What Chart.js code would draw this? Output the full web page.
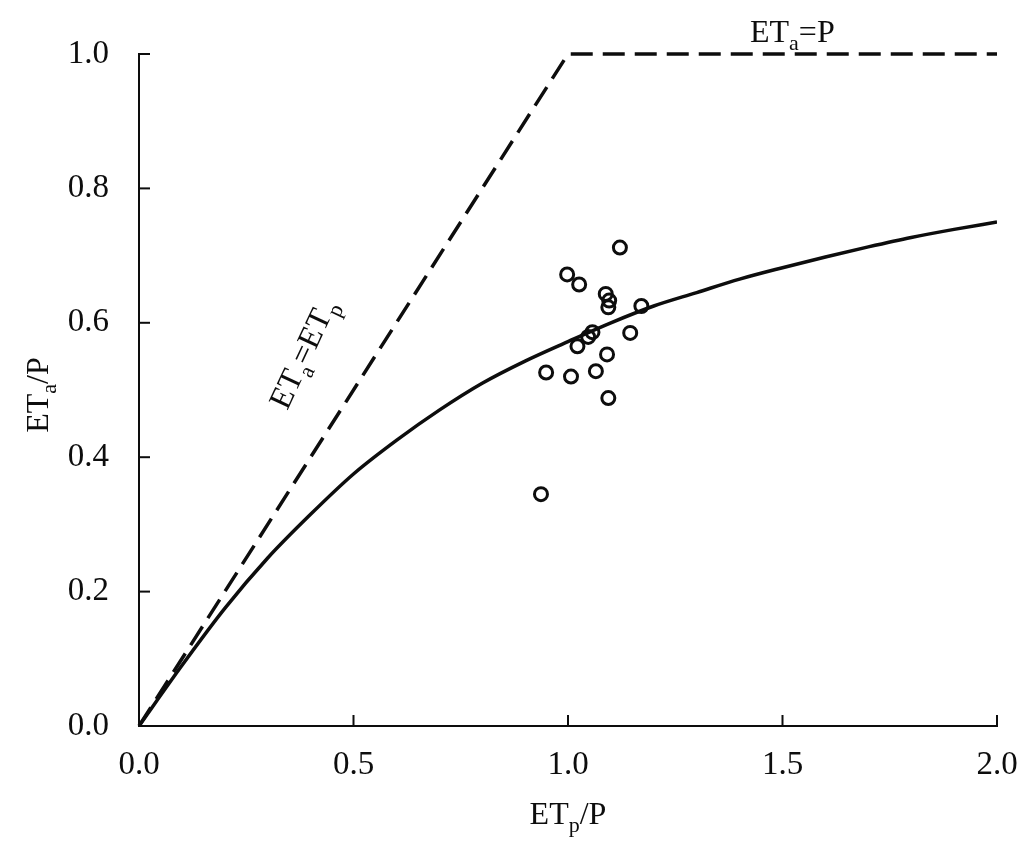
<!DOCTYPE html>
<html>
<head>
<meta charset="utf-8">
<script src="https://cdn.jsdelivr.net/npm/chart.js@4.4.1/dist/chart.umd.min.js"></script>
<style>
  html, body { margin: 0; padding: 0; background: #fff; }
  #wrap { width: 1024px; height: 849px; }
</style>
</head>
<body>
<div id="wrap"><canvas id="grafica"></canvas></div>
<script>
// observed points (ETp/P, ETa/P)
const obsX = [1.121, 0.998, 1.026, 1.088, 1.096, 1.094, 1.171, 1.057, 1.047, 1.022,
  1.145, 1.091, 1.065, 0.949, 1.007, 1.094, 0.937];
const obsY = [0.712, 0.672, 0.657, 0.643, 0.633, 0.623, 0.625, 0.586, 0.579, 0.565,
  0.585, 0.553, 0.528, 0.526, 0.520, 0.488, 0.345];

// fitted curve
const curveX = [0, 0.1, 0.2, 0.3, 0.4, 0.5, 0.6, 0.7, 0.8, 0.9, 1.0,
  1.1, 1.2, 1.3, 1.4, 1.5, 1.6, 1.7, 1.8, 1.9, 2.0];
const curveY = [0, 0.09, 0.175, 0.25, 0.315, 0.375, 0.425, 0.47, 0.51, 0.543, 0.572,
  0.600, 0.625, 0.645, 0.665, 0.682, 0.698, 0.713, 0.727, 0.739, 0.750];

// limits ETa=ETp and ETa=P
const limitX = [0, 1, 2];
const limitY = [0, 1, 1];

const xTicks = [0, 0.5, 1.0, 1.5, 2.0];
const yTicks = [0, 0.2, 0.4, 0.6, 0.8, 1.0];

const FONT = "'Liberation Serif', 'Times New Roman', Tinos, serif";
const INK = "#0d0d0d";

function pts(xs, ys) {
  return xs.map((x, i) => ({ x: x, y: ys[i] }));
}

// draw text with subscripts: parts = [[text, isSub], ...]
function textSub(ctx, parts, x, y, size, align) {
  const small = Math.round(size * 0.68);
  let total = 0;
  parts.forEach(function (p) {
    ctx.font = (p[1] ? small : size) + "px " + FONT;
    total += ctx.measureText(p[0]).width;
  });
  let cx = align === "center" ? x - total / 2 : x;
  ctx.textAlign = "left";
  ctx.textBaseline = "alphabetic";
  parts.forEach(function (p) {
    ctx.font = (p[1] ? small : size) + "px " + FONT;
    ctx.fillText(p[0], cx, p[1] ? y + size * 0.25 : y);
    cx += ctx.measureText(p[0]).width;
  });
}

const extras = {
  id: "extras",
  afterDraw(chart) {
    const ctx = chart.ctx;
    const xs = chart.scales.x;
    const ys = chart.scales.y;
    const a = chart.chartArea;
    ctx.save();
    ctx.strokeStyle = INK;
    ctx.lineWidth = 2;
    // inward ticks
    xTicks.forEach(function (v) {
      const px = xs.getPixelForValue(v);
      ctx.beginPath();
      ctx.moveTo(px, a.bottom);
      ctx.lineTo(px, a.bottom - 11);
      ctx.stroke();
    });
    yTicks.forEach(function (v) {
      const py = ys.getPixelForValue(v);
      ctx.beginPath();
      ctx.moveTo(a.left, py);
      ctx.lineTo(a.left + 11, py);
      ctx.stroke();
    });
    ctx.fillStyle = INK;
    // axis titles
    textSub(ctx, [["ET", false], ["p", true], ["/P", false]], 568, 824, 32, "center");
    ctx.save();
    ctx.translate(48, 395);
    ctx.rotate(-Math.PI / 2);
    textSub(ctx, [["ET", false], ["a", true], ["/P", false]], 0, 0, 32, "center");
    ctx.restore();
    // line labels
    textSub(ctx, [["ET", false], ["a", true], ["=P", false]], 750, 42, 32, "left");
    ctx.save();
    ctx.translate(312, 358);
    ctx.rotate(-65 * Math.PI / 180);
    textSub(ctx, [["ET", false], ["a", true], ["=ET", false], ["p", true]], 0, 0, 32, "center");
    ctx.restore();
    ctx.restore();
  }
};

function crearGrafica() {
  const ctx = document.getElementById("grafica").getContext("2d");
  return new Chart(ctx, {
    type: "scatter",
    data: {
      datasets: [
        {
          label: "observed",
          data: pts(obsX, obsY),
          pointStyle: "circle",
          pointRadius: 6.5,
          borderWidth: 3,
          borderColor: INK,
          backgroundColor: "rgba(255,255,255,0)",
          order: 1,
        },
        {
          label: "curve",
          type: "line",
          data: pts(curveX, curveY),
          borderColor: INK,
          borderWidth: 3.5,
          pointRadius: 0,
          cubicInterpolationMode: "monotone",
          fill: false,
          order: 2,
        },
        {
          label: "limits",
          type: "line",
          data: pts(limitX, limitY),
          borderColor: INK,
          borderWidth: 3.5,
          borderDash: [22, 10],
          pointRadius: 0,
          tension: 0,
          fill: false,
          clip: 8,
          order: 3,
        },
      ],
    },
    options: {
      responsive: true,
      maintainAspectRatio: false,
      animation: false,
      layout: { padding: { left: 0, top: 54, right: 27, bottom: 0 } },
      plugins: {
        legend: { display: false },
        tooltip: { enabled: false },
      },
      scales: {
        x: {
          type: "linear",
          min: 0,
          max: 2,
          afterFit: function (s) { s.height = 123; s.paddingRight = 0; },
          afterBuildTicks: function (s) { s.ticks = xTicks.map((v) => ({ value: v })); },
          ticks: {
            padding: 20,
            color: INK,
            font: { family: FONT, size: 33 },
            maxRotation: 0,
            callback: (v) => v.toFixed(1),
          },
          grid: { display: false, drawTicks: false },
          border: { display: true, color: INK, width: 2 },
        },
        y: {
          type: "linear",
          min: 0,
          max: 1,
          afterFit: function (s) { s.width = 139; },
          afterBuildTicks: function (s) { s.ticks = yTicks.map((v) => ({ value: v })); },
          ticks: {
            padding: 30,
            color: INK,
            font: { family: FONT, size: 33 },
            callback: (v) => v.toFixed(1),
          },
          grid: { display: false, drawTicks: false },
          border: { display: true, color: INK, width: 2 },
        },
      },
    },
    plugins: [extras],
  });
}

document.fonts.load("33px 'Liberation Serif'").then(crearGrafica, crearGrafica);
</script>
</body>
</html>
